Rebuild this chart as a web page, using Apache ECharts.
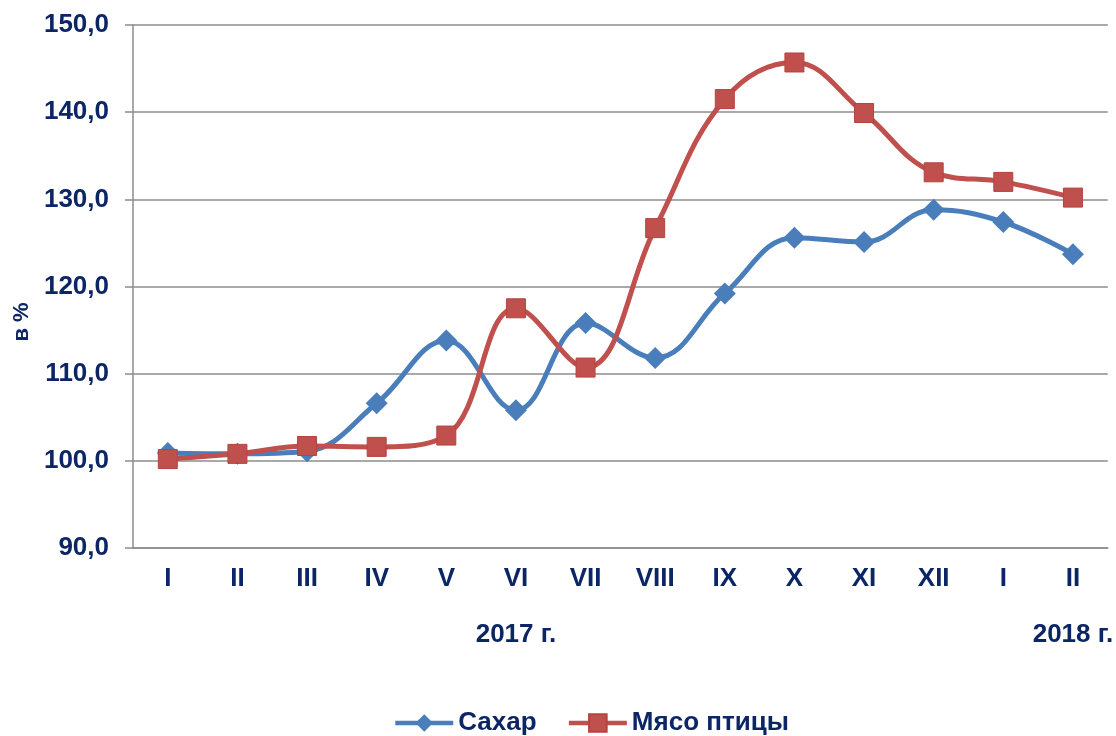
<!DOCTYPE html>
<html>
<head>
    <meta charset="utf-8">
    <title>Сахар и мясо птицы</title>
    <script type="text/javascript" src="https://cdn.jsdelivr.net/npm/echarts@6/dist/echarts.min.js"></script>
    <style>
        html, body { margin: 0; padding: 0; background: #fff; }
    </style>
</head>
<body>
    <div id="main" style="width: 1116px;height:736px;"></div>
    <script type="text/javascript">
        // месяцы и годы по оси X
        var months = ['I', 'II', 'III', 'IV', 'V', 'VI', 'VII', 'VIII', 'IX', 'X', 'XI', 'XII', 'I', 'II'];
        var years = ['', '', '', '', '', '2017 г.', '', '', '', '', '', '', '', '2018 г.'];

        // значения, в %
        var sugar = [100.9, 100.8, 101.1, 106.6, 113.8, 105.8, 115.8, 111.8, 119.2, 125.6, 125.1, 128.8, 127.4, 123.7];
        var poultry = [100.2, 100.8, 101.7, 101.6, 102.9, 117.5, 110.7, 126.7, 141.5, 145.7, 139.9, 133.1, 132.0, 130.2];

        var textColor = '#0b2565';
        var gridColor = '#8c8c8c';
        var font = 'Liberation Sans, Arial, sans-serif';

        var myChart = echarts.init(document.getElementById('main'));

        var option = {
            animation: false,
            textStyle: { fontFamily: font },
            grid: { left: 133, right: 3, top: 25, bottom: 188 },
            // подпись оси Y
            graphic: [{
                type: 'text',
                x: 22,
                y: 322,
                rotation: Math.PI / 2,
                style: {
                    text: 'в %',
                    fill: textColor,
                    font: 'bold 22px ' + font,
                    textAlign: 'center',
                    textVerticalAlign: 'middle'
                }
            }],
            legend: {
                top: 705,
                left: 388,
                itemWidth: 58,
                itemHeight: 22,
                itemGap: 30,
                lineStyle: { width: 4.5 },
                textStyle: { color: textColor, fontSize: 26, fontWeight: 'bold', fontFamily: font },
                data: ['Сахар', 'Мясо птицы']
            },
            xAxis: [
                {
                    type: 'category',
                    data: months,
                    boundaryGap: true,
                    axisLine: { lineStyle: { color: gridColor, width: 1.5 } },
                    axisTick: { length: 8, lineStyle: { color: gridColor, width: 1.5 } },
                    axisLabel: { margin: 18, color: textColor, fontSize: 26, fontWeight: 'bold' }
                },
                {
                    type: 'category',
                    data: years,
                    position: 'bottom',
                    offset: 62,
                    boundaryGap: true,
                    axisLine: { show: false },
                    axisTick: { show: false },
                    axisLabel: { interval: 0, margin: 12, color: textColor, fontSize: 26, fontWeight: 'bold' }
                }
            ],
            yAxis: {
                type: 'value',
                min: 90,
                max: 150,
                interval: 10,
                axisLine: { show: true, lineStyle: { color: gridColor, width: 1.5 } },
                axisTick: { show: true, length: 8, lineStyle: { color: gridColor, width: 1.5 } },
                splitLine: { lineStyle: { color: gridColor, width: 1.5 } },
                axisLabel: {
                    margin: 24,
                    color: textColor,
                    fontSize: 26,
                    fontWeight: 'bold',
                    formatter: function (v) { return v.toFixed(1).replace('.', ','); }
                }
            },
            series: [
                {
                    name: 'Сахар',
                    type: 'line',
                    data: sugar,
                    smooth: 0.4,
                    symbol: 'diamond',
                    symbolSize: 22,
                    lineStyle: { color: '#4a7ebb', width: 5 },
                    itemStyle: { color: '#4a7ebb' }
                },
                {
                    name: 'Мясо птицы',
                    type: 'line',
                    data: poultry,
                    smooth: 0.4,
                    symbol: 'rect',
                    symbolSize: 19,
                    lineStyle: { color: '#c0504d', width: 5 },
                    itemStyle: { color: '#c0504d', borderColor: '#b5433f', borderWidth: 1 }
                }
            ]
        };

        myChart.setOption(option);
    </script>
</body>
</html>
